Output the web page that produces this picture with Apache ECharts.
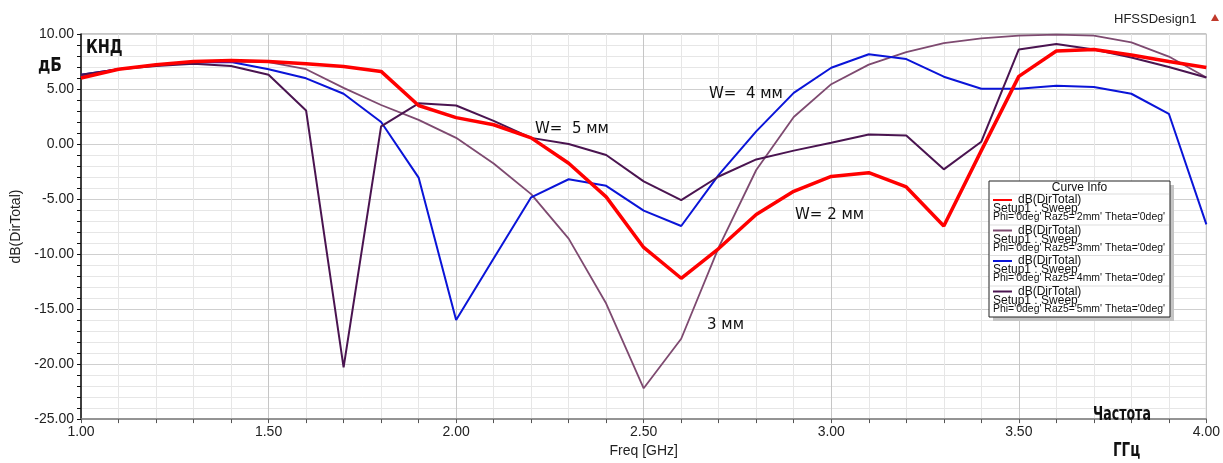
<!DOCTYPE html>
<html>
<head>
<meta charset="utf-8">
<script src="https://cdn.jsdelivr.net/npm/echarts@6/dist/echarts.min.js"></script>
<style>
  html, body { margin: 0; padding: 0; background: #fff; }
  #chart { width: 1223px; height: 463px; }
</style>
</head>
<body>
<div id="chart"></div>
<script>
// частоты, ГГц
const freqs = [1.0, 1.1, 1.2, 1.3, 1.4, 1.5, 1.6, 1.7, 1.8, 1.9, 2.0, 2.1, 2.2, 2.3, 2.4, 2.5,
  2.6, 2.7, 2.8, 2.9, 3.0, 3.1, 3.2, 3.3, 3.4, 3.5, 3.6, 3.7, 3.8, 3.9, 4.0];

// dB(DirTotal) для Raz5 = 2, 3, 4, 5 mm
const w2mm = [6.0, 6.8, 7.2, 7.5, 7.6, 7.5, 7.3, 7.05, 6.6, 3.5, 2.4, 1.75, 0.56, -1.75, -4.8, -9.4,
  -12.2, -9.5, -6.4, -4.3, -2.95, -2.6, -3.9, -7.45, -0.6, 6.15, 8.45, 8.6, 8.1, 7.5, 6.95];
const w3mm = [6.2, 6.8, 7.2, 7.4, 7.5, 7.45, 6.8, 5.1, 3.55, 2.2, 0.56, -1.77, -4.55, -8.6, -14.5, -22.2,
  -17.7, -9.4, -2.36, 2.46, 5.44, 7.22, 8.36, 9.18, 9.6, 9.85, 9.95, 9.85, 9.24, 7.95, 6.05];
const w4mm = [6.3, 6.8, 7.2, 7.4, 7.45, 6.8, 5.97, 4.57, 2.0, -3.05, -16.0, -10.4, -4.84, -3.2, -3.8, -6.05,
  -7.45, -2.8, 1.15, 4.65, 6.93, 8.16, 7.72, 6.12, 5.03, 5.03, 5.3, 5.18, 4.57, 2.75, -7.3];
const w5mm = [6.3, 6.8, 7.1, 7.3, 7.1, 6.3, 3.05, -20.3, 1.6, 3.7, 3.5, 2.1, 0.56, 0.0, -1.0, -3.4,
  -5.1, -2.95, -1.4, -0.6, 0.12, 0.86, 0.77, -2.3, 0.21, 8.6, 9.1, 8.6, 7.87, 7.0, 6.05];

const curveNames = ["2mm", "3mm", "4mm", "5mm"];
const curveColors = ["#ff0000", "#7e4a70", "#0a14d8", "#4a1450"];
const curveWidths = [3.5, 1.8, 2, 2];
const curveData = [w2mm, w3mm, w4mm, w5mm];

const chart = echarts.init(document.getElementById("chart"), null, { renderer: "canvas" });

const pairs = (vals) => freqs.map((f, i) => [f, vals[i]]);

// Curve Info box
const lgX = 989, lgY = 181, lgW = 181, lgH = 136;
const lgFont = "11px 'Liberation Sans', Arial, sans-serif";
const legendEls = [
  { type: "rect", shape: { x: lgX + 4, y: lgY + 4, width: lgW, height: lgH }, style: { fill: "#c4c4c4" }, z: 10 },
  { type: "rect", shape: { x: lgX, y: lgY, width: lgW, height: lgH }, style: { fill: "#fff", stroke: "#222", lineWidth: 1 }, z: 11 },
  { type: "text", x: lgX + lgW / 2, y: lgY + 7, style: { text: "Curve Info", font: "12px 'Liberation Sans', Arial, sans-serif", fill: "#111", align: "center", verticalAlign: "middle" }, z: 12 },
  { type: "line", shape: { x1: lgX + 1, y1: lgY + 13, x2: lgX + lgW - 1, y2: lgY + 13 }, style: { stroke: "#ddd", lineWidth: 1 }, z: 12 }
];
curveNames.forEach((n, i) => {
  const y0 = lgY + 19 + i * 30.5;
  legendEls.push(
    { type: "line", shape: { x1: lgX + 4, y1: y0, x2: lgX + 23, y2: y0 }, style: { stroke: curveColors[i], lineWidth: 2 }, z: 12 },
    { type: "text", x: lgX + 29, y: y0, style: { text: "dB(DirTotal)", font: "12px 'Liberation Sans', Arial, sans-serif", fill: "#111", verticalAlign: "middle" }, z: 12 },
    { type: "text", x: lgX + 4, y: y0 + 9, style: { text: "Setup1 : Sweep", font: "12px 'Liberation Sans', Arial, sans-serif", fill: "#111", verticalAlign: "middle" }, z: 12 },
    { type: "text", x: lgX + 4, y: y0 + 17, scaleX: 0.95, style: { text: "Phi='0deg' Raz5='" + n + "' Theta='0deg'", font: lgFont, fill: "#111", verticalAlign: "middle" }, z: 12 }
  );
  if (i < 3) {
    legendEls.push({ type: "line", shape: { x1: lgX + 1, y1: y0 + 25, x2: lgX + lgW - 1, y2: y0 + 25 }, style: { stroke: "#ddd", lineWidth: 1 }, z: 12 });
  }
});

const annot = (txt, x, y, font, extra) => Object.assign({
  type: "text", x: x, y: y, z: 20,
  style: { text: txt, font: font, fill: "#111", verticalAlign: "middle" }
}, extra || {});

const condensed = "bold 20px 'DejaVu Sans Condensed'";

const option = {
  backgroundColor: "#fff",
  animation: false,
  grid: { left: 81, right: 16, top: 34, bottom: 30, show: true, borderColor: "#8a8a8a", borderWidth: 1 },
  xAxis: {
    type: "value", min: 1, max: 4, interval: 0.5,
    name: "Freq [GHz]", nameLocation: "middle", nameGap: 21,
    nameTextStyle: { fontFamily: "Liberation Sans", fontSize: 14, color: "#222" },
    axisLine: { onZero: false, lineStyle: { color: "#808080", width: 1.5 } },
    axisTick: { show: true, length: 4, lineStyle: { color: "#555" } },
    minorTick: { show: true, splitNumber: 5, length: 4, lineStyle: { color: "#555" } },
    axisLabel: { margin: 6, fontFamily: "Liberation Sans", fontSize: 14, color: "#222", formatter: (v) => v.toFixed(2) },
    splitLine: { show: true, lineStyle: { color: "#c6c6c6" } },
    minorSplitLine: { show: true, lineStyle: { color: "#e6e6e6" } }
  },
  yAxis: {
    type: "value", min: -25, max: 10, interval: 5,
    name: "dB(DirTotal)", nameLocation: "middle", nameGap: 57, nameRotate: 90,
    nameTextStyle: { fontFamily: "Liberation Sans", fontSize: 14, color: "#222" },
    axisLine: { show: true, onZero: false, lineStyle: { color: "#111", width: 1.5 } },
    axisTick: { show: true, length: 4, lineStyle: { color: "#111" } },
    minorTick: { show: true, splitNumber: 5, length: 4, lineStyle: { color: "#111" } },
    axisLabel: { margin: 7, fontFamily: "Liberation Sans", fontSize: 14, color: "#222", formatter: (v) => v.toFixed(2) },
    splitLine: { show: true, lineStyle: { color: "#cfcfcf" } },
    minorSplitLine: { show: true, lineStyle: { color: "#e6e6e6" } }
  },
  series: curveNames.map((n, i) => ({
    name: n, type: "line", data: pairs(curveData[i]),
    showSymbol: false, symbol: "none",
    lineStyle: { color: curveColors[i], width: curveWidths[i] },
    z: i === 0 ? 5 : 3
  })),
  graphic: legendEls.concat([
    annot("КНД", 86, 48, condensed, { scaleX: 0.8 }),
    annot("дБ", 38, 66, condensed, { scaleX: 0.85 }),
    annot("Частота", 1093, 415, condensed, { scaleX: 0.7 }),
    annot("ГГц", 1113, 451, condensed, { scaleX: 0.75 }),
    annot("W=  4 мм", 709, 94, "15px 'DejaVu Sans'"),
    annot("W=  5 мм", 535, 129, "15px 'DejaVu Sans'"),
    annot("W= 2 мм", 795, 215, "15px 'DejaVu Sans'"),
    annot("3 мм", 707, 325, "15px 'DejaVu Sans'"),
    annot("HFSSDesign1", 1114, 19, "13px 'Liberation Sans'", { style: { text: "HFSSDesign1", font: "13px 'Liberation Sans'", fill: "#222", verticalAlign: "middle" } }),
    { type: "polygon", z: 20, shape: { points: [[1215, 14], [1219, 21], [1211, 21]] }, style: { fill: "#c0392b" } }
  ])
};

chart.setOption(option);
</script>
</body>
</html>
